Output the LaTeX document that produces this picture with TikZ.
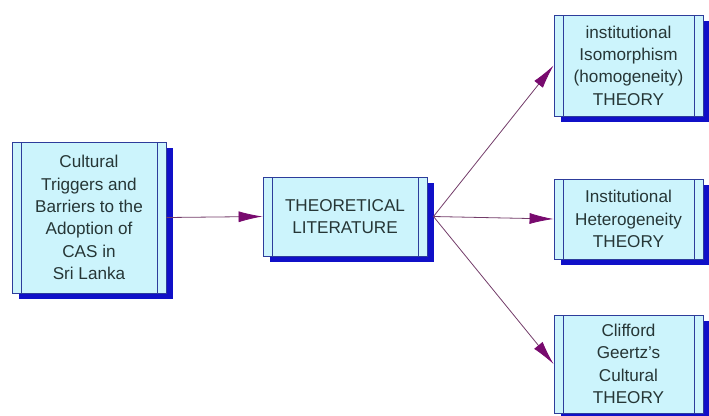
\documentclass[tikz,border=0pt]{standalone}
\usepackage{fontspec}
\setmainfont{Liberation Sans}
\usetikzlibrary{arrows.meta,shadows}

\definecolor{boxfill}{RGB}{204,244,252}
\definecolor{boxline}{RGB}{45,60,155}
\definecolor{boxshadow}{RGB}{16,16,200}
\definecolor{boxtext}{RGB}{38,54,54}
\definecolor{linkline}{RGB}{115,60,105}
\definecolor{linkhead}{RGB}{120,10,110}

\tikzset{
    theorybox/.style={draw=boxline, line width=0.9bp, fill=boxfill,
        drop shadow={shadow xshift=7bp, shadow yshift=-6bp, fill=boxshadow, opacity=1},
        text=boxtext, align=center, inner sep=0pt,
        font=\fontsize{17.2}{22.5}\selectfont,
        path picture={
            \draw[boxline, line width=0.9bp]
                ([xshift=9bp]path picture bounding box.north west) --
                ([xshift=9bp]path picture bounding box.south west);
            \draw[boxline, line width=0.9bp]
                ([xshift=-9bp]path picture bounding box.north east) --
                ([xshift=-9bp]path picture bounding box.south east);
        }},
    link/.style={draw=linkline, line width=0.8bp,
        -{Latex[length=24bp, width=11bp, fill=linkhead, color=linkhead]}}
}

\begin{document}
\begin{tikzpicture}[x=1bp, y=-1bp]

\useasboundingbox (0,0) rectangle (709,415);

% =============================================
% CAJA IZQUIERDA: tema de estudio
% =============================================
\node[theorybox, minimum width=154bp, minimum height=151bp] (cas) at (89,217.5)
    {Cultural\\Triggers and\\Barriers to the\\Adoption of\\CAS in\\Sri Lanka};

% =============================================
% CAJA CENTRAL: literatura
% =============================================
\node[theorybox, minimum width=164bp, minimum height=79bp] (lit) at (345,216.5)
    {THEORETICAL\\LITERATURE};

% =============================================
% CAJAS DERECHAS: teorias
% =============================================
\node[theorybox, minimum width=149bp, minimum height=101bp] (iso) at (628.5,65.5)
    {institutional\\Isomorphism\\(homogeneity)\\THEORY};
\node[theorybox, minimum width=149bp, minimum height=80bp] (het) at (628.5,219)
    {Institutional\\Heterogeneity\\THEORY};
\node[theorybox, minimum width=149bp, minimum height=98bp] (gee) at (628.5,364)
    {Clifford\\Geertz's\\Cultural\\THEORY};

% Flechas
\draw[link] (cas.east) -- (lit.west);
\draw[link] ([xshift=6bp]lit.east) -- (iso.west);
\draw[link] ([xshift=6bp]lit.east) -- (het.west);
\draw[link] ([xshift=6bp]lit.east) -- (gee.west);

\end{tikzpicture}
\end{document}
